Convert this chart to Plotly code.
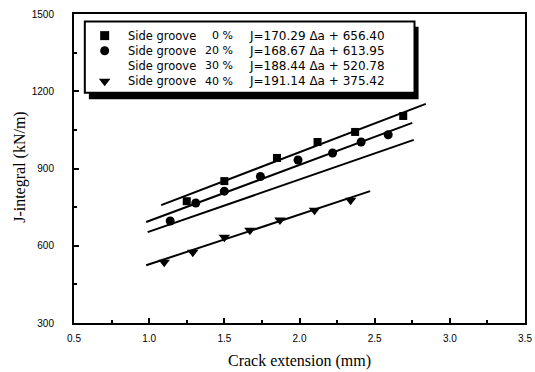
import plotly.graph_objects as go

# ---- data ----
sq_x = [1.25, 1.50, 1.85, 2.12, 2.37, 2.69]
sq_y = [773, 851, 941, 1003, 1042, 1104]
ci_x = [1.14, 1.31, 1.50, 1.74, 1.99, 2.22, 2.41, 2.59]
ci_y = [696, 766, 812, 869, 933, 960, 1003, 1031]
tr_x = [1.10, 1.29, 1.50, 1.67, 1.87, 2.10, 2.34]
tr_y = [536, 575, 633, 660, 700, 738, 777]

# fitted lines (end points as drawn)
fit0_x = [1.08, 2.84]; fit0_y = [758, 1151]
fit20_x = [0.98, 2.75]; fit20_y = [692, 1077]
fit30_x = [0.99, 2.76]; fit30_y = [653, 1011]
fit40_x = [0.98, 2.47]; fit40_y = [524, 812]

legend_pct = ["0 %", "20 %", "30 %", "40 %"]
legend_eq = ["J=170.29 \u0394a + 656.40", "J=168.67 \u0394a + 613.95",
             "J=188.44 \u0394a + 520.78", "J=191.14 \u0394a + 375.42"]
legend_sym = ["square", "circle", None, "triangle-down"]

x_ticks = [0.5, 1.0, 1.5, 2.0, 2.5, 3.0, 3.5]
y_ticks = [300, 600, 900, 1200, 1500]

fig = go.Figure()
for fx, fy in [(fit0_x, fit0_y), (fit20_x, fit20_y), (fit30_x, fit30_y), (fit40_x, fit40_y)]:
    fig.add_trace(go.Scatter(x=fx, y=fy, mode="lines", line=dict(color="black", width=2),
                             showlegend=False, hoverinfo="skip"))
fig.add_trace(go.Scatter(x=sq_x, y=sq_y, mode="markers",
                         marker=dict(symbol="square", size=8, color="black"), showlegend=False))
fig.add_trace(go.Scatter(x=ci_x, y=ci_y, mode="markers",
                         marker=dict(symbol="circle", size=9, color="black"), showlegend=False))
fig.add_trace(go.Scatter(x=tr_x, y=tr_y, mode="markers",
                         marker=dict(symbol="triangle-down", size=10, color="black"), showlegend=False))

# ---- custom legend box ----
fig.add_shape(type="rect", xref="paper", yref="paper", x0=0.033, x1=0.764, y0=0.724, y1=0.959,
              fillcolor="black", line=dict(width=0), layer="below")
fig.add_shape(type="rect", xref="paper", yref="paper", x0=0.024, x1=0.755, y0=0.745, y1=0.976,
              fillcolor="white", line=dict(color="black", width=2), layer="below")

row_y = [0.930, 0.881, 0.833, 0.782]
for i in range(4):
    fig.add_annotation(xref="paper", yref="paper", x=0.116, y=row_y[i], text="Side groove",
                       showarrow=False, xanchor="left", yanchor="middle",
                       font=dict(family="DejaVu Sans", size=11.5, color="black"))
    fig.add_annotation(xref="paper", yref="paper", x=0.358, y=row_y[i], text=legend_pct[i],
                       showarrow=False, xanchor="right", yanchor="middle",
                       font=dict(family="DejaVu Sans", size=11, color="black"))
    fig.add_annotation(xref="paper", yref="paper", x=0.383, y=row_y[i], text=legend_eq[i],
                       showarrow=False, xanchor="left", yanchor="middle",
                       font=dict(family="DejaVu Sans", size=12, color="black"))

for i, s in enumerate(legend_sym):
    if s is None:
        continue
    fig.add_trace(go.Scatter(x=[0.068], y=[row_y[i]], xaxis="x2", yaxis="y2", mode="markers",
                             marker=dict(symbol=s, size=9 if s != "triangle-down" else 10, color="black"),
                             showlegend=False, hoverinfo="skip", cliponaxis=False))

# axis titles
fig.add_annotation(xref="paper", yref="paper", x=0.5, y=-0.122, text="Crack extension (mm)",
                   showarrow=False, xanchor="center", yanchor="middle",
                   font=dict(family="Liberation Serif", size=16, color="black"))
fig.add_annotation(xref="paper", yref="paper", x=-0.120, y=0.505, text="J-integral (kN/m)",
                   showarrow=False, xanchor="center", yanchor="middle", textangle=-90,
                   font=dict(family="Liberation Serif", size=16, color="black"))

fig.update_layout(
    width=535, height=372,
    margin=dict(l=74, r=3, t=14, b=49),
    paper_bgcolor="white", plot_bgcolor="white",
    showlegend=False,
    xaxis=dict(range=[0.5, 3.5], tickvals=x_ticks, ticktext=[f"{v:.1f}" for v in x_ticks],
               ticks="inside", ticklen=5, tickwidth=2, tickcolor="black",
               minor=dict(dtick=0.25, ticks="inside", ticklen=3, tickwidth=2, tickcolor="black"),
               showline=True, linecolor="black", linewidth=2, mirror=True,
               showgrid=False, zeroline=False, ticklabelstandoff=5, ticklabeloverflow="allow",
               tickfont=dict(family="Liberation Sans", size=10, color="black")),
    yaxis=dict(range=[300, 1500], tickvals=y_ticks,
               ticks="inside", ticklen=5, tickwidth=2, tickcolor="black",
               minor=dict(dtick=150, ticks="inside", ticklen=3, tickwidth=2, tickcolor="black"),
               showline=True, linecolor="black", linewidth=2, mirror=True,
               showgrid=False, zeroline=False, ticklabelstandoff=16, ticklabeloverflow="allow",
               tickfont=dict(family="Liberation Sans", size=10, color="black")),
    xaxis2=dict(range=[0, 1], overlaying="x", visible=False, fixedrange=True),
    yaxis2=dict(range=[0, 1], overlaying="y", visible=False, fixedrange=True),
)

fig.write_html("out.html")
